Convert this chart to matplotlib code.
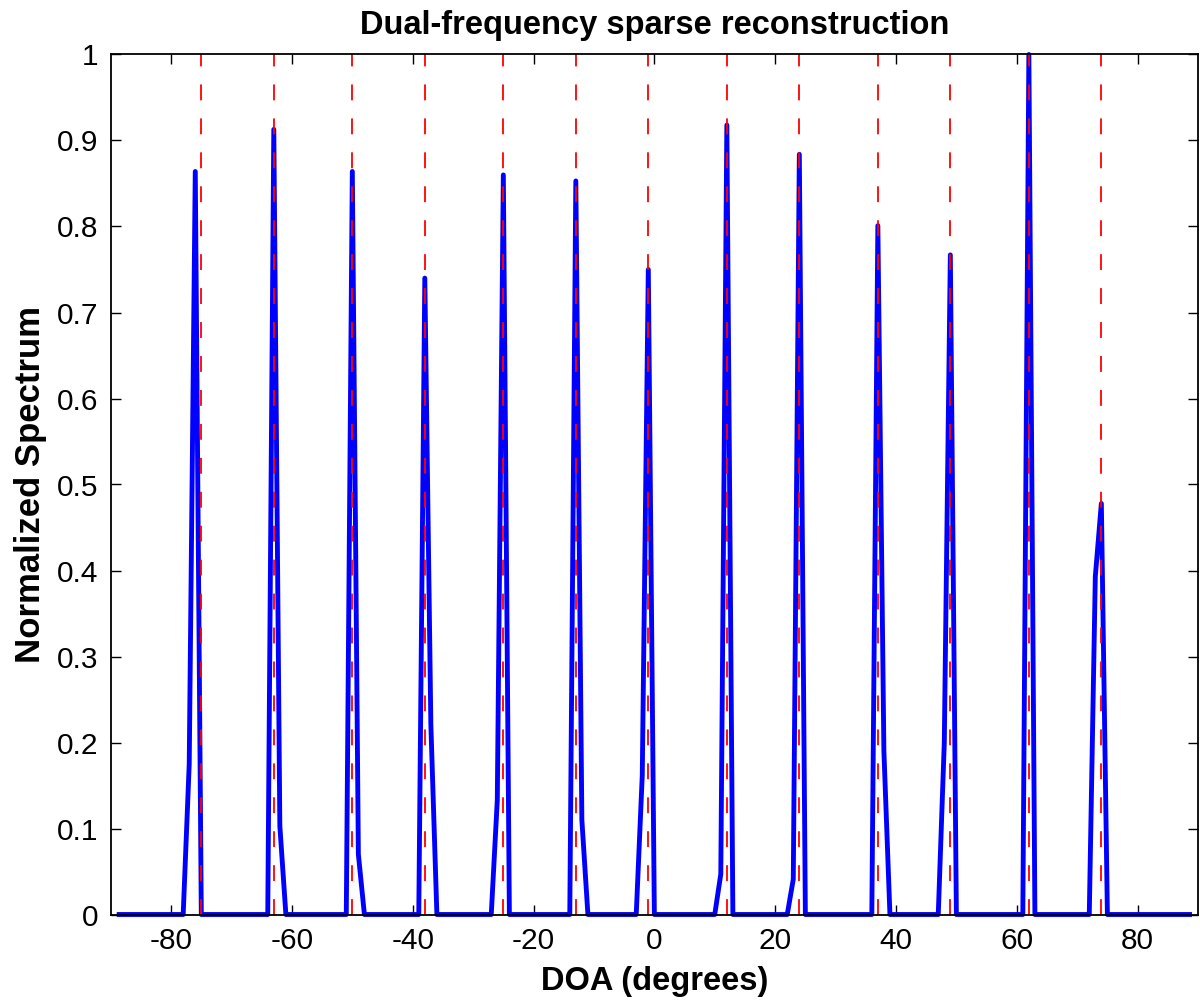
import numpy as np
import matplotlib
matplotlib.use("Agg")
import matplotlib.pyplot as plt

# ---- data ----
true_doas = [-75, -63, -50, -38, -25, -13, -1, 12, 24, 37, 49, 62, 74]

grid_start = -89
grid_stop = 89

nonzero_angles = [-77, -76, -63, -62, -50, -49, -38, -37, -26, -25, -13, -12,
                  -2, -1, 11, 12, 23, 24, 37, 38, 48, 49, 62, 73, 74]
nonzero_values = [0.175, 0.864, 0.913, 0.103, 0.864, 0.070, 0.740, 0.221,
                  0.133, 0.860, 0.853, 0.110, 0.162, 0.750, 0.047, 0.918,
                  0.041, 0.884, 0.801, 0.190, 0.200, 0.767, 1.000, 0.393, 0.478]

x_ticks = [-80, -60, -40, -20, 0, 20, 40, 60, 80]
y_ticks = [0, 0.1, 0.2, 0.3, 0.4, 0.5, 0.6, 0.7, 0.8, 0.9, 1]
y_tick_labels = ["0", "0.1", "0.2", "0.3", "0.4", "0.5", "0.6", "0.7", "0.8", "0.9", "1"]

# build spectrum on the angular grid
angles = np.arange(grid_start, grid_stop + 1)
spectrum = np.zeros(len(angles))
for a, v in zip(nonzero_angles, nonzero_values):
    spectrum[a - grid_start] = v

plt.rcParams['font.family'] = ['Liberation Sans', 'DejaVu Sans']

fig = plt.figure(figsize=(12, 10.02), dpi=100)
ax = fig.add_axes([110.7 / 1200, (1002 - 914.5) / 1002,
                   (1198 - 110.7) / 1200, (914.5 - 54.5) / 1002])

ax.plot(angles, spectrum, color=(0, 0, 1), linewidth=3.5,
        solid_joinstyle='round', solid_capstyle='butt', clip_on=False, zorder=2)
for d in true_doas:
    ax.plot([d, d], [0, 1], color=(1, 0, 0), linewidth=1.3,
            dashes=(8.8, 10.0), zorder=3)

ax.set_xlim(-90, 90)
ax.set_ylim(0, 1)
ax.set_xticks(x_ticks)
ax.set_xticklabels([str(t) for t in x_ticks])
ax.set_yticks(y_ticks)
ax.set_yticklabels(y_tick_labels)

ax.tick_params(direction='in', length=7.5, width=1.0, top=True, right=True,
               labelsize=21.5, colors='black')
ax.tick_params(axis='x', pad=9)
ax.tick_params(axis='y', pad=9)
for s in ax.spines.values():
    s.set_linewidth(1.3)
    s.set_zorder(5)

ax.set_title("Dual-frequency sparse reconstruction", fontsize=23.5,
             fontweight='bold', pad=15)
ax.set_xlabel("DOA (degrees)", fontsize=23.5, fontweight='bold', labelpad=8)
ax.set_ylabel("Normalized Spectrum", fontsize=25, fontweight='bold', labelpad=7)

fig.savefig("out.png", dpi=100)
